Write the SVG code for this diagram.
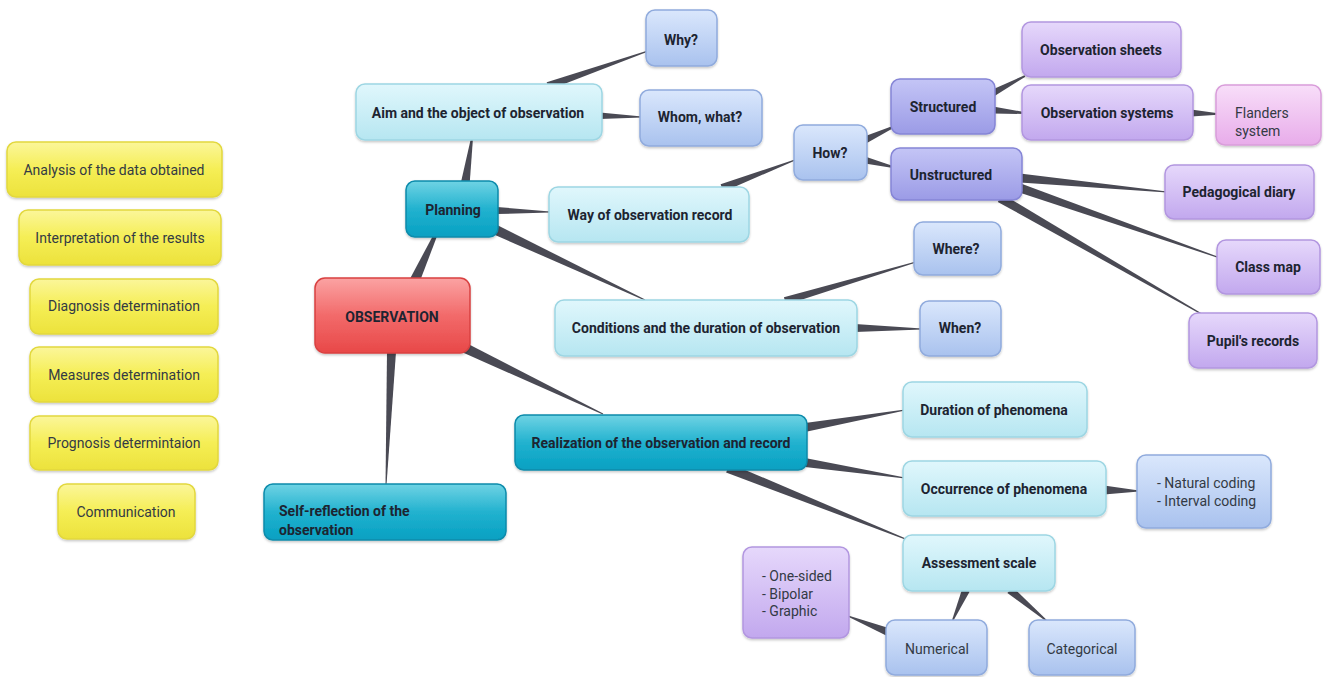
<svg xmlns="http://www.w3.org/2000/svg" width="1329" height="677" viewBox="0 0 1329 677">
<defs>
<linearGradient id="gy" x1="0" y1="0" x2="0" y2="1"><stop offset="0" stop-color="#fbf69a"/><stop offset="0.5" stop-color="#f5ee55"/><stop offset="1" stop-color="#ece23c"/></linearGradient>
<linearGradient id="gc" x1="0" y1="0" x2="0" y2="1"><stop offset="0" stop-color="#e0f7fc"/><stop offset="1" stop-color="#b6e6f1"/></linearGradient>
<linearGradient id="gb" x1="0" y1="0" x2="0" y2="1"><stop offset="0" stop-color="#dae7fc"/><stop offset="1" stop-color="#a9c2ee"/></linearGradient>
<linearGradient id="gp" x1="0" y1="0" x2="0" y2="1"><stop offset="0" stop-color="#c4c5f6"/><stop offset="1" stop-color="#9b9be6"/></linearGradient>
<linearGradient id="gl" x1="0" y1="0" x2="0" y2="1"><stop offset="0" stop-color="#e6d8fb"/><stop offset="1" stop-color="#c2a8ee"/></linearGradient>
<linearGradient id="gk" x1="0" y1="0" x2="0" y2="1"><stop offset="0" stop-color="#f8def9"/><stop offset="1" stop-color="#e8acea"/></linearGradient>
<linearGradient id="gt" x1="0" y1="0" x2="0" y2="1"><stop offset="0" stop-color="#6fd3e4"/><stop offset="0.5" stop-color="#22b2cf"/><stop offset="1" stop-color="#06a0c2"/></linearGradient>
<linearGradient id="gr" x1="0" y1="0" x2="0" y2="1"><stop offset="0" stop-color="#fba3a3"/><stop offset="0.5" stop-color="#f26a6a"/><stop offset="1" stop-color="#e84848"/></linearGradient>
<filter id="sh" x="-10%" y="-10%" width="120%" height="130%"><feDropShadow dx="0" dy="1.5" stdDeviation="1.2" flood-color="#000" flood-opacity="0.22"/></filter>
</defs>
<style>
rect{filter:url(#sh);stroke-width:1.5}
.y rect{fill:url(#gy);stroke:#e2d83e}
.c rect{fill:url(#gc);stroke:#9dd6e3}
.b rect{fill:url(#gb);stroke:#90abdd}
.p rect{fill:url(#gp);stroke:#8585d6}
.l rect{fill:url(#gl);stroke:#b296e0}
.k rect{fill:url(#gk);stroke:#d99dda}
.t rect{fill:url(#gt);stroke:#0a8bab}
.r rect{fill:url(#gr);stroke:#d94040}
text{font-family:Roboto,"Liberation Sans",sans-serif;font-size:14px;fill:#1d2431;font-weight:bold;text-anchor:middle;dominant-baseline:central}
text.n{font-weight:normal;fill:#333a44}
text.s{text-anchor:start}
#connectors polygon{fill:#4a4a54}
</style>
<rect width="1329" height="677" fill="#ffffff" style="filter:none;stroke:none"/>
<g id="connectors">
<polygon points="419.6,282.1 436.8,236.8 433.2,235.2 410.4,277.9"/>
<polygon points="469.5,185.7 473,138.1 471,137.9 460.5,184.3"/>
<polygon points="549.3,89.8 648.2,51.5 647.8,50.5 546.7,82.2"/>
<polygon points="600,112.5 642,116.5 642,117.5 600,119"/>
<polygon points="497,207 550,211.5 550,212.5 497,214"/>
<polygon points="493.9,234.5 644.8,300.5 645.2,299.5 498.1,225.5"/>
<polygon points="723.4,191.7 795.2,160.5 794.8,159.5 720.6,184.3"/>
<polygon points="866.5,143.2 893.4,127.9 892.6,126.1 863.5,136.8"/>
<polygon points="865,156.5 893,166 893,168 865,163.5"/>
<polygon points="994.6,96.1 1025.4,76.7 1024.6,75.3 991.4,89.9"/>
<polygon points="993,106.5 1024,112 1024,114 993,113.5"/>
<polygon points="1191,109.5 1218,113.3 1218,114.7 1191,116.5"/>
<polygon points="1020,173.5 1167,191.5 1167,192.5 1020,182.5"/>
<polygon points="1018.5,192.2 1219.8,258.5 1220.2,257.5 1021.5,183.8"/>
<polygon points="997.8,201.9 1204.8,316.4 1205.2,315.6 1002.2,194.1"/>
<polygon points="786.1,304.8 916.1,262.5 915.9,261.5 783.9,297.2"/>
<polygon points="855,324 922,328.5 922,329.5 855,332"/>
<polygon points="462.8,352.5 602.8,414.5 603.2,413.5 467.2,343.5"/>
<polygon points="387,352 385.5,485 386.5,485 396,352"/>
<polygon points="805,423 905,409.5 905,410.5 805,432"/>
<polygon points="805,458 905,477.5 905,478.5 805,467"/>
<polygon points="726.1,472.6 907.8,540.5 908.2,539.5 729.9,463.4"/>
<polygon points="1104,485.5 1139,490.5 1139,491.5 1104,494.5"/>
<polygon points="962.3,588.4 951.5,621.8 952.5,622.2 969.7,591.6"/>
<polygon points="1007.4,593.1 1047.7,622.4 1048.3,621.6 1012.6,586.9"/>
<polygon points="889.4,628.3 848.2,615.5 847.8,616.5 886.6,635.7"/>
</g>
<g id="n-analysis" class="y"><rect x="7" y="142" width="215" height="55" rx="9"/><text class="n" x="114" y="170">Analysis of the data obtained</text></g>
<g id="n-interpretation" class="y"><rect x="19" y="210" width="202" height="55" rx="9"/><text class="n" x="120" y="238">Interpretation of the results</text></g>
<g id="n-diagnosis" class="y"><rect x="30" y="279" width="188" height="55" rx="9"/><text class="n" x="124" y="306">Diagnosis determination</text></g>
<g id="n-measures" class="y"><rect x="30" y="347" width="188" height="55" rx="9"/><text class="n" x="124" y="375">Measures determination</text></g>
<g id="n-prognosis" class="y"><rect x="30" y="416" width="188" height="54" rx="9"/><text class="n" x="124" y="443">Prognosis determintaion</text></g>
<g id="n-communication" class="y"><rect x="58" y="484" width="137" height="55" rx="9"/><text class="n" x="126" y="512">Communication</text></g>

<g id="n-why" class="b"><rect x="646" y="10" width="71" height="56" rx="9"/><text x="681" y="40">Why?</text></g>
<g id="n-aim" class="c"><rect x="356" y="84" width="246" height="56" rx="9"/><text x="478" y="113">Aim and the object of observation</text></g>
<g id="n-whom" class="b"><rect x="640" y="90" width="122" height="56" rx="9"/><text x="700" y="117">Whom, what?</text></g>
<g id="n-planning" class="t"><rect x="406" y="181" width="92" height="56" rx="9"/><text x="453" y="210">Planning</text></g>
<g id="n-way" class="c"><rect x="549" y="187" width="200" height="55" rx="9"/><text x="650" y="215">Way of observation record</text></g>
<g id="n-how" class="b"><rect x="794" y="125" width="73" height="55" rx="9"/><text x="830" y="153">How?</text></g>
<g id="n-structured" class="p"><rect x="891" y="79" width="104" height="55" rx="9"/><text x="943" y="107">Structured</text></g>
<g id="n-unstructured" class="p"><rect x="891" y="148" width="131" height="52" rx="9"/><text x="951" y="175">Unstructured</text></g>
<g id="n-sheets" class="l"><rect x="1022" y="22" width="159" height="55" rx="9"/><text x="1101" y="50">Observation sheets</text></g>
<g id="n-systems" class="l"><rect x="1022" y="85" width="171" height="55" rx="9"/><text x="1107" y="113">Observation systems</text></g>
<g id="n-flanders" class="k"><rect x="1216" y="85" width="105" height="60" rx="9"/><text class="n s" x="1235" y="113">Flanders</text><text class="n s" x="1235" y="131">system</text></g>
<g id="n-diary" class="l"><rect x="1165" y="165" width="149" height="54" rx="9"/><text x="1239" y="192">Pedagogical diary</text></g>
<g id="n-classmap" class="l"><rect x="1217" y="240" width="103" height="54" rx="9"/><text x="1268" y="267">Class map</text></g>
<g id="n-pupils" class="l"><rect x="1189" y="313" width="128" height="55" rx="9"/><text x="1253" y="341">Pupil's records</text></g>
<g id="n-where" class="b"><rect x="914" y="222" width="87" height="53" rx="9"/><text x="956" y="249">Where?</text></g>
<g id="n-conditions" class="c"><rect x="555" y="300" width="302" height="56" rx="9"/><text x="706" y="328">Conditions and the duration of observation</text></g>
<g id="n-when" class="b"><rect x="920" y="301" width="81" height="55" rx="9"/><text x="960" y="328">When?</text></g>
<g id="n-observation" class="r"><rect x="315" y="278" width="155" height="75" rx="10"/><text x="392" y="317">OBSERVATION</text></g>
<g id="n-realization" class="t"><rect x="515" y="415" width="292" height="55" rx="9"/><text x="661" y="443">Realization of the observation and record</text></g>
<g id="n-selfreflection" class="t"><rect x="264" y="484" width="242" height="56" rx="9"/><text class="s" x="279" y="511">Self-reflection of the</text><text class="s" x="279" y="530">observation</text></g>
<g id="n-duration" class="c"><rect x="903" y="382" width="184" height="55" rx="9"/><text x="994" y="410">Duration of phenomena</text></g>
<g id="n-occurrence" class="c"><rect x="903" y="461" width="203" height="55" rx="9"/><text x="1004" y="489">Occurrence of phenomena</text></g>
<g id="n-coding" class="b"><rect x="1137" y="455" width="134" height="73" rx="9"/><text class="n s" x="1157" y="483">- Natural coding</text><text class="n s" x="1157" y="501">- Interval coding</text></g>
<g id="n-assessment" class="c"><rect x="903" y="535" width="152" height="56" rx="9"/><text x="979" y="563">Assessment scale</text></g>
<g id="n-onesided" class="l"><rect x="743" y="547" width="106" height="91" rx="9"/><text class="n s" x="762" y="576">- One-sided</text><text class="n s" x="762" y="594">- Bipolar</text><text class="n s" x="762" y="611">- Graphic</text></g>
<g id="n-numerical" class="b"><rect x="886" y="620" width="101" height="55" rx="9"/><text class="n" x="937" y="649">Numerical</text></g>
<g id="n-categorical" class="b"><rect x="1029" y="620" width="106" height="55" rx="9"/><text class="n" x="1082" y="649">Categorical</text></g>
</svg>
